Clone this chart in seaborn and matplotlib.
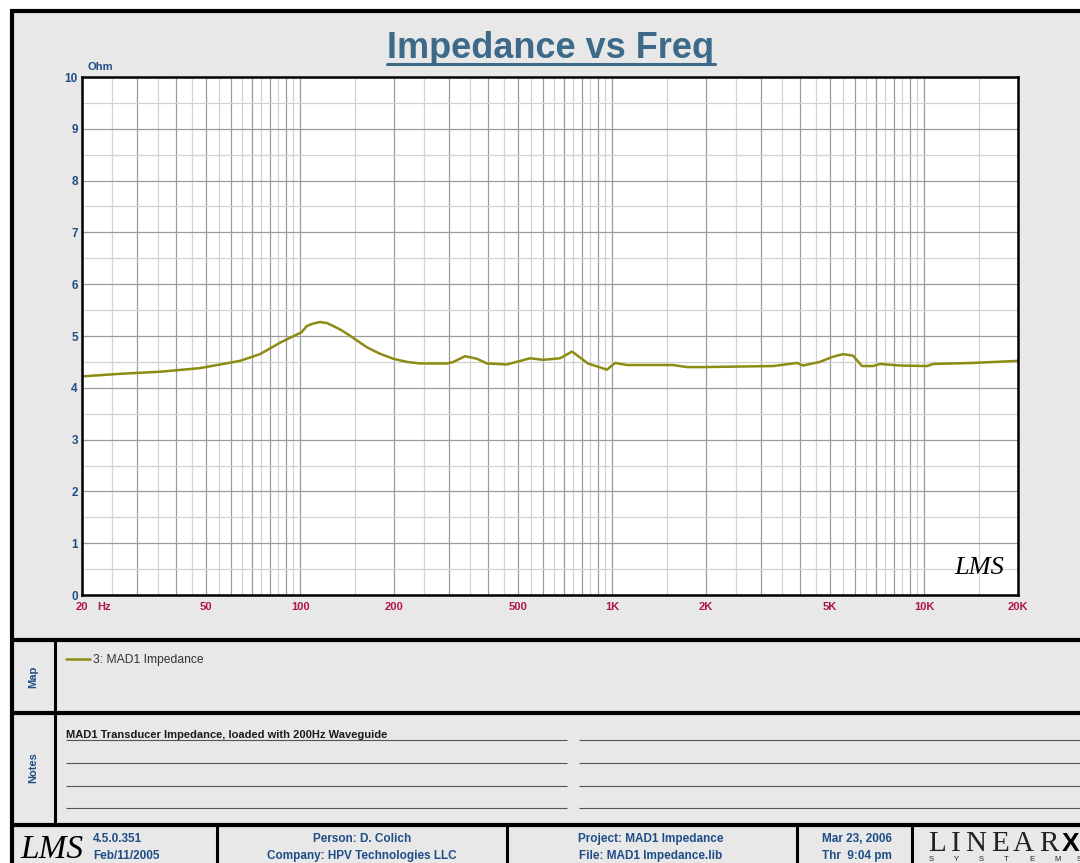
import matplotlib
matplotlib.use("Agg")
import matplotlib.pyplot as plt
import seaborn as sns
from matplotlib.lines import Line2D
from matplotlib.patches import Rectangle
from matplotlib.ticker import NullFormatter

# ---- data ----
freq_hz = [20, 26.5, 35.6, 47.8, 64.2, 74.4, 86.2, 98.5, 101, 105, 110, 116, 122, 128, 135,
           145, 155, 164, 180, 199, 220, 242, 296, 310, 338, 369, 397, 460, 546, 601,
           681, 744, 837, 963, 1022, 1117, 1567, 1738, 1957, 3281, 3918, 4093, 4634,
           5106, 5496, 5917, 6325, 6857, 7229, 8377, 10218, 10690, 14355, 20000]
impedance_ohm = [4.22, 4.27, 4.31, 4.38, 4.52, 4.65, 4.87, 5.04, 5.07, 5.19, 5.24, 5.27, 5.25,
                 5.19, 5.12, 5.0, 4.88, 4.78, 4.66, 4.56, 4.50, 4.47, 4.47, 4.50, 4.61,
                 4.56, 4.47, 4.45, 4.57, 4.54, 4.57, 4.70, 4.47, 4.35, 4.48, 4.44, 4.44,
                 4.40, 4.40, 4.42, 4.48, 4.43, 4.50, 4.60, 4.65, 4.62, 4.42, 4.42, 4.46,
                 4.43, 4.42, 4.46, 4.48, 4.52]
series_label = "3: MAD1 Impedance"

x_tick_labels = {20: "20", 50: "50", 100: "100", 200: "200", 500: "500",
                 1000: "1K", 2000: "2K", 5000: "5K", 10000: "10K", 20000: "20K"}
y_ticks = list(range(0, 11))

notes_text = "MAD1 Transducer Impedance, loaded with 200Hz Waveguide"
footer_rows = [
    ("Person: D. Colich", "Company: HPV Technologies LLC"),
    ("Project: MAD1 Impedance", "File: MAD1 Impedance.lib"),
    ("Mar 23, 2006", "Thr  9:04 pm"),
]

# ---- colours ----
BG = "#e8e8e8"
BLUE = "#1f4d86"
CRIMSON = "#b0144f"
TITLE_C = "#3c6a88"
LINE_C = "#8c8c14"
GRID_DARK = "#9c9c9c"
GRID_LIGHT = "#d2d2d2"

sns.set_style("white")
plt.rcParams["font.family"] = ["Liberation Sans", "DejaVu Sans"]

W, H = 1080, 863
fig = plt.figure(figsize=(W / 100, H / 100), dpi=100, facecolor="white")


def fx(x):
    return x / W


def fy(y):
    return 1 - y / H


def hline(y, x0, x1, lw, color="black"):
    fig.add_artist(Line2D([fx(x0), fx(x1)], [fy(y), fy(y)], lw=lw, color=color,
                          transform=fig.transFigure, solid_capstyle="butt"))


def vline(x, y0, y1, lw, color="black"):
    fig.add_artist(Line2D([fx(x), fx(x)], [fy(y0), fy(y1)], lw=lw, color=color,
                          transform=fig.transFigure, solid_capstyle="butt"))


# page background with thick frame (right/bottom run off the crop)
fig.add_artist(Rectangle((fx(11.5), fy(900)), fx(1200), (900 - 11.5) / H,
                         transform=fig.transFigure, facecolor=BG,
                         edgecolor="black", lw=3, zorder=-10))
hline(640, 10, 1100, 3)
hline(713, 10, 1100, 3)
hline(825, 10, 1100, 3)
vline(55, 640, 825, 2.2)
for xs in (217, 507, 797, 912):
    vline(xs, 825, 900, 2.2)

# ---- main plot ----
ax = fig.add_axes([fx(82), fy(595), fx(1018) - fx(82), (595 - 77) / H])
ax.set_facecolor("white")
sns.lineplot(x=freq_hz, y=impedance_ohm, ax=ax, color=LINE_C, linewidth=1.8,
             label=series_label)
handles, labels = ax.get_legend_handles_labels()
ax.get_legend().remove()

ax.set_xscale("log")
ax.set_xlim(20, 20000)
ax.set_ylim(0, 10)

dark_x = [k * 10 ** n for n in range(1, 5) for k in range(1, 10) if 20 <= k * 10 ** n <= 20000]
light_x = [(k + 0.5) * 10 ** n for n in range(1, 5) for k in range(1, 10)
           if 20 < (k + 0.5) * 10 ** n < 20000]
ax.set_xticks(dark_x)
ax.set_xticklabels([x_tick_labels.get(v, "") for v in dark_x])
ax.set_xticks(light_x, minor=True)
ax.xaxis.set_minor_formatter(NullFormatter())
ax.set_yticks(y_ticks)
ax.set_yticks([v + 0.5 for v in y_ticks[:-1]], minor=True)

ax.grid(which="major", color=GRID_DARK, lw=0.9)
ax.grid(which="minor", color=GRID_LIGHT, lw=0.9)
ax.set_axisbelow(True)
ax.tick_params(which="both", length=0)
ax.tick_params(axis="x", pad=5, labelsize=8, labelcolor=CRIMSON)
ax.tick_params(axis="y", pad=3, labelsize=8.5, labelcolor=BLUE)
for lab in ax.get_xticklabels() + ax.get_yticklabels():
    lab.set_fontweight("bold")
for sp in ax.spines.values():
    sp.set_color("black")
    sp.set_linewidth(1.8)
ax.set_xlabel("")
ax.set_ylabel("")

ax.text(0.985, 0.03, "LMS", transform=ax.transAxes, ha="right", va="bottom",
        family="Liberation Serif", style="italic", fontsize=19, color="black")

fig.text(fx(88), fy(67), "Ohm", color=BLUE, fontsize=8, weight="bold", va="center")
fig.text(fx(104), fy(607), "Hz", color=CRIMSON, fontsize=8, weight="bold",
         ha="center", va="center")

title = fig.text(fx(551), fy(58.5), "Impedance vs Freq", ha="center", va="baseline",
                 fontsize=26, weight="bold", color=TITLE_C)

# ---- map panel ----
fig.text(fx(33), fy(677), "Map", rotation=90, ha="center", va="center",
         color=BLUE, fontsize=8, weight="bold")
fig.legend(handles, labels, loc="center left", bbox_to_anchor=(fx(66), fy(660)),
           frameon=False, fontsize=8.7, handlelength=2.0, handletextpad=0.25,
           borderpad=0, borderaxespad=0, labelcolor="#333333")

# ---- notes panel ----
fig.text(fx(33), fy(768), "Notes", rotation=90, ha="center", va="center",
         color=BLUE, fontsize=8, weight="bold")
fig.text(fx(66), fy(738.5), notes_text, va="baseline", fontsize=8, weight="bold",
         color="#1a1a1a")
for yy in (740, 763, 786, 808):
    hline(yy, 66, 567, 0.8, "#555555")
    hline(yy, 579, 1100, 0.8, "#555555")

# ---- footer ----
fig.text(fx(20), fy(858), "LMS", family="Liberation Serif", style="italic",
         fontsize=24, color="black", va="baseline")
fig.text(fx(93), fy(839), "4.5.0.351", color=BLUE, fontsize=8.5, weight="bold", va="center")
fig.text(fx(93), fy(856), "Feb/11/2005", color=BLUE, fontsize=8.5, weight="bold", va="center")
for cx, (top, bottom) in zip((362, 651, 857), footer_rows):
    fig.text(fx(cx), fy(839), top, color=BLUE, fontsize=8.5, weight="bold",
             ha="center", va="center")
    fig.text(fx(cx), fy(856), bottom, color=BLUE, fontsize=8.5, weight="bold",
             ha="center", va="center")
for ch, lx in zip("LINEAR", (928, 950.5, 965, 991, 1013, 1039)):
    fig.text(fx(lx), fy(851), ch, family="Liberation Serif", fontsize=21,
             color="#222222", va="baseline")
fig.text(fx(1062), fy(851), "X", fontsize=19, weight="bold", color="black", va="baseline")
for ch, lx in zip("SYSTEMS", (929, 954, 979, 1004, 1029, 1054, 1077)):
    fig.text(fx(lx), fy(859.5), ch, fontsize=5.5, color="#222222", va="center")

# underline the title
fig.canvas.draw()
bb = title.get_window_extent(fig.canvas.get_renderer()).transformed(fig.transFigure.inverted())
fig.add_artist(Line2D([bb.x0, bb.x1], [fy(64.5), fy(64.5)], lw=2.2, color=TITLE_C,
                      transform=fig.transFigure))

fig.savefig("out.png", dpi=100, facecolor="white")
plt.close(fig)
